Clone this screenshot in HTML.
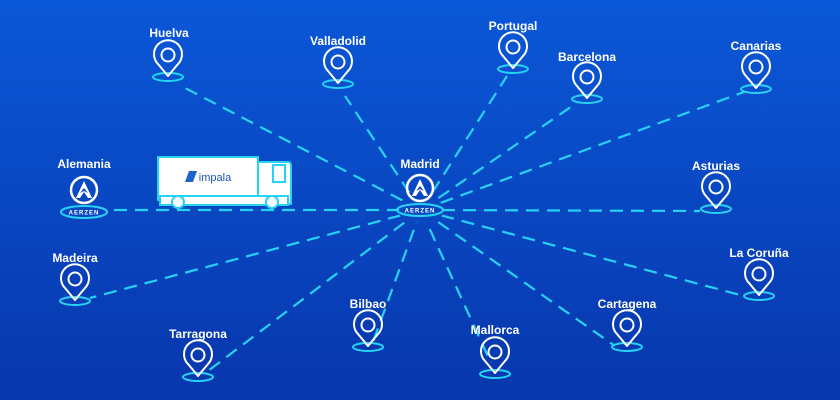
<!DOCTYPE html>
<html><head><meta charset="utf-8"><style>
html,body{margin:0;padding:0;width:840px;height:400px;overflow:hidden}
svg{display:block}
text{font-family:"Liberation Sans",sans-serif;font-weight:bold;fill:#fff;font-size:12px;text-anchor:middle}
</style></head><body>
<svg width="840" height="400" viewBox="0 0 840 400" xmlns="http://www.w3.org/2000/svg">
<defs>
<linearGradient id="bg" x1="0" y1="0" x2="0" y2="1">
<stop offset="0" stop-color="#0a58d8"/><stop offset="1" stop-color="#0836ac"/>
</linearGradient>
<g id="pin">
<ellipse cx="0" cy="19" rx="15" ry="4" fill="none" stroke="#27d3f5" stroke-width="2"/>
<path d="M0 18 L-10 6 A14 14 0 1 1 10 6 Z" fill="none" stroke="#fff" stroke-width="2" stroke-linejoin="round"/>
<circle cx="0" cy="-3" r="6.5" fill="none" stroke="#fff" stroke-width="2"/>
</g>
<g id="logo">
<circle cx="0" cy="0" r="13" fill="none" stroke="#fff" stroke-width="2.5"/>
<path d="M-8 8 L0 -9 L8 8 L4 8 L0 2 L-4 8 Z" fill="#fff"/>
<path d="M-4 3 L0 -2 L4 3 L0 1 Z" fill="#0a47c2"/>
<ellipse cx="0" cy="22" rx="23" ry="6" fill="none" stroke="#27d3f5" stroke-width="2"/>
<text x="0" y="24.5" style="font-size:6px;letter-spacing:1px">AERZEN</text>
</g>
</defs>
<rect width="840" height="400" fill="url(#bg)"/>
<g stroke="#27d3f5" stroke-width="2.2" stroke-dasharray="13 8" fill="none">
<line x1="421" y1="210" x2="185" y2="88"/>
<line x1="421" y1="210" x2="345" y2="96"/>
<line x1="421" y1="210" x2="507" y2="76"/>
<line x1="421" y1="210" x2="578" y2="102"/>
<line x1="421" y1="210" x2="744" y2="92"/>
<line x1="421" y1="210" x2="700" y2="211"/>
<line x1="421" y1="210" x2="744" y2="296"/>
<line x1="421" y1="210" x2="615" y2="346"/>
<line x1="421" y1="210" x2="491" y2="363"/>
<line x1="421" y1="210" x2="373" y2="342"/>
<line x1="421" y1="210" x2="208" y2="371"/>
<line x1="421" y1="210" x2="90" y2="298"/>
<line x1="421" y1="210" x2="110" y2="210"/>
</g>
<rect x="399" y="200" width="44" height="22" rx="11" fill="#0a48c0"/>
<!-- truck -->
<g stroke="#27d3f5" stroke-width="2" fill="#fff">
<rect x="158" y="157" width="100" height="43"/>
<path d="M258 162 H288 Q291 162 291 166 V204 H258 Z"/>
<rect x="160" y="196" width="128" height="9"/>
<circle cx="178" cy="202" r="6"/><circle cx="272" cy="202" r="6"/>
<path d="M273 165 H285 V182 H273 Z" fill="none"/>
</g>
<path d="M189 171 L197 171 L193 182 L185 182 Z" fill="#1b66c8"/>
<text x="215" y="181" style="fill:#1d55b0;font-size:11px;font-weight:normal">impala</text>
<use href="#logo" x="84" y="190"/>
<use href="#logo" x="420" y="188"/>
<use href="#pin" x="168" y="58"/>
<use href="#pin" x="338" y="65"/>
<use href="#pin" x="513" y="50"/>
<use href="#pin" x="587" y="80"/>
<use href="#pin" x="756" y="70"/>
<use href="#pin" x="716" y="190"/>
<use href="#pin" x="759" y="277"/>
<use href="#pin" x="627" y="328"/>
<use href="#pin" x="495" y="355"/>
<use href="#pin" x="368" y="328"/>
<use href="#pin" x="198" y="358"/>
<use href="#pin" x="75" y="282"/>
<text x="169" y="37">Huelva</text>
<text x="338" y="45">Valladolid</text>
<text x="513" y="30">Portugal</text>
<text x="587" y="61">Barcelona</text>
<text x="756" y="50">Canarias</text>
<text x="84" y="168">Alemania</text>
<text x="420" y="168">Madrid</text>
<text x="716" y="170">Asturias</text>
<text x="759" y="257">La Coruña</text>
<text x="75" y="262">Madeira</text>
<text x="627" y="308">Cartagena</text>
<text x="368" y="308">Bilbao</text>
<text x="495" y="334">Mallorca</text>
<text x="198" y="338">Tarragona</text>
</svg>
</body></html>
